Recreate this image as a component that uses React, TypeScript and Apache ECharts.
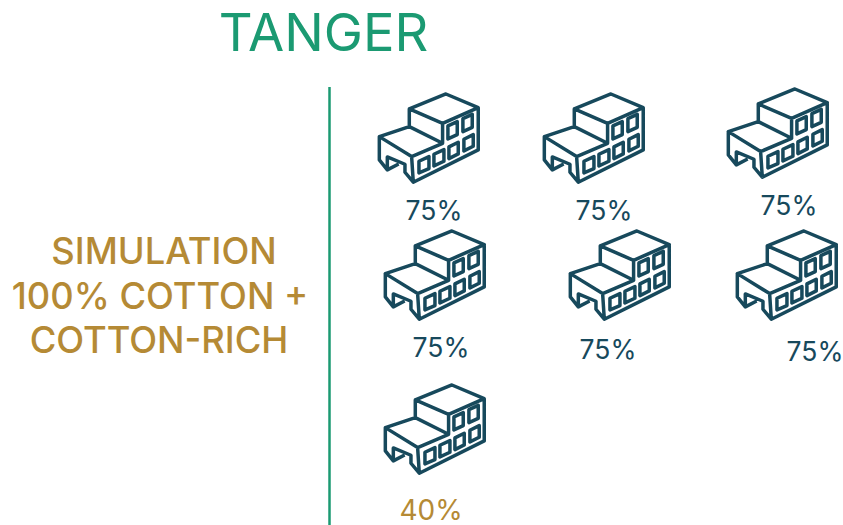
import React, { useEffect, useRef } from "react";
import * as echarts from "echarts";

const titleText = "TANGER";
const sideLines = ["SIMULATION", "100% COTTON +", "COTTON-RICH"];
const factoryLabels = ["75%", "75%", "75%", "75%", "75%", "75%", "40%"];
const highlightIndex = 6;

const ICON_PATH =
  "M118 72L228 27L325 68L218 115ZM118 72L118 128M218 115L218 175" +
  "M28 155L118 125L218 175L125 215ZM28 155L28 225L52 255L52 216L105 238L105 262L130 292L325 195L325 68" +
  "M52 255L86 237M125 215L130 292" +
  "M147 229L177 215L177 251L147 264Z" +
  "M192 208L222 194L222 229L192 243Z" +
  "M237 186L265 172L265 207L237 221Z" +
  "M282 163L310 149L310 184L282 198Z" +
  "M234 123L262 110L262 149L234 162Z" +
  "M279 101L307 88L307 127L279 140Z";

echarts.graphic.registerShape("factory", echarts.graphic.extendPath(ICON_PATH, {}) as any);

const iconPlaces = [
  [370, 85], [535, 85], [719, 80],
  [376, 222], [561, 222], [728, 222],
  [376, 376],
];
const labelPlaces = [
  [434, 210], [604, 210], [789, 205],
  [441, 347], [608, 349], [815, 351],
  [431, 510],
];
const sidePlaces = [[164, 251], [160, 296], [159, 340]];

const GREEN = "#1b9a72";
const GOLD = "#b58a35";
const NAVY = "#17495c";
const FONT = "Inter, sans-serif";

export default function App() {
  const ref = useRef<HTMLDivElement>(null);
  useEffect(() => {
    const chart = echarts.init(ref.current!, undefined, { renderer: "svg" });
    const elements: any[] = [
      {
        type: "text", x: 323.5, y: 32,
        style: { text: titleText, fill: GREEN, font: `400 52.5px ${FONT}`, align: "center", verticalAlign: "middle" },
      },
      {
        type: "line", shape: { x1: 329.5, y1: 87, x2: 329.5, y2: 525 },
        style: { stroke: GREEN, lineWidth: 2.5 },
      },
    ];
    sideLines.forEach((t, i) => {
      elements.push({
        type: "text", x: sidePlaces[i][0], y: sidePlaces[i][1],
        style: { text: t, fill: GOLD, font: `500 36.3px ${FONT}`, align: "center", verticalAlign: "middle" },
      });
    });
    factoryLabels.forEach((t, i) => {
      const highlighted = i === highlightIndex;
      elements.push({
        type: "factory", x: iconPlaces[i][0], y: iconPlaces[i][1], scaleX: 1 / 3, scaleY: 1 / 3,
        style: { fill: "none", stroke: NAVY, lineWidth: 10.5, lineJoin: "round" },
      });
      elements.push({
        type: "text", x: labelPlaces[i][0], y: labelPlaces[i][1],
        style: {
          text: t, fill: highlighted ? GOLD : NAVY, font: `400 ${highlighted ? 28 : 26.5}px ${FONT}`,
          align: "center", verticalAlign: "middle",
        },
      });
    });
    chart.setOption({ animation: false, graphic: { elements } });
    return () => chart.dispose();
  }, []);
  return <div ref={ref} style={{ width: 843, height: 525, position: "absolute", left: 0, top: 0 }} />;
}
